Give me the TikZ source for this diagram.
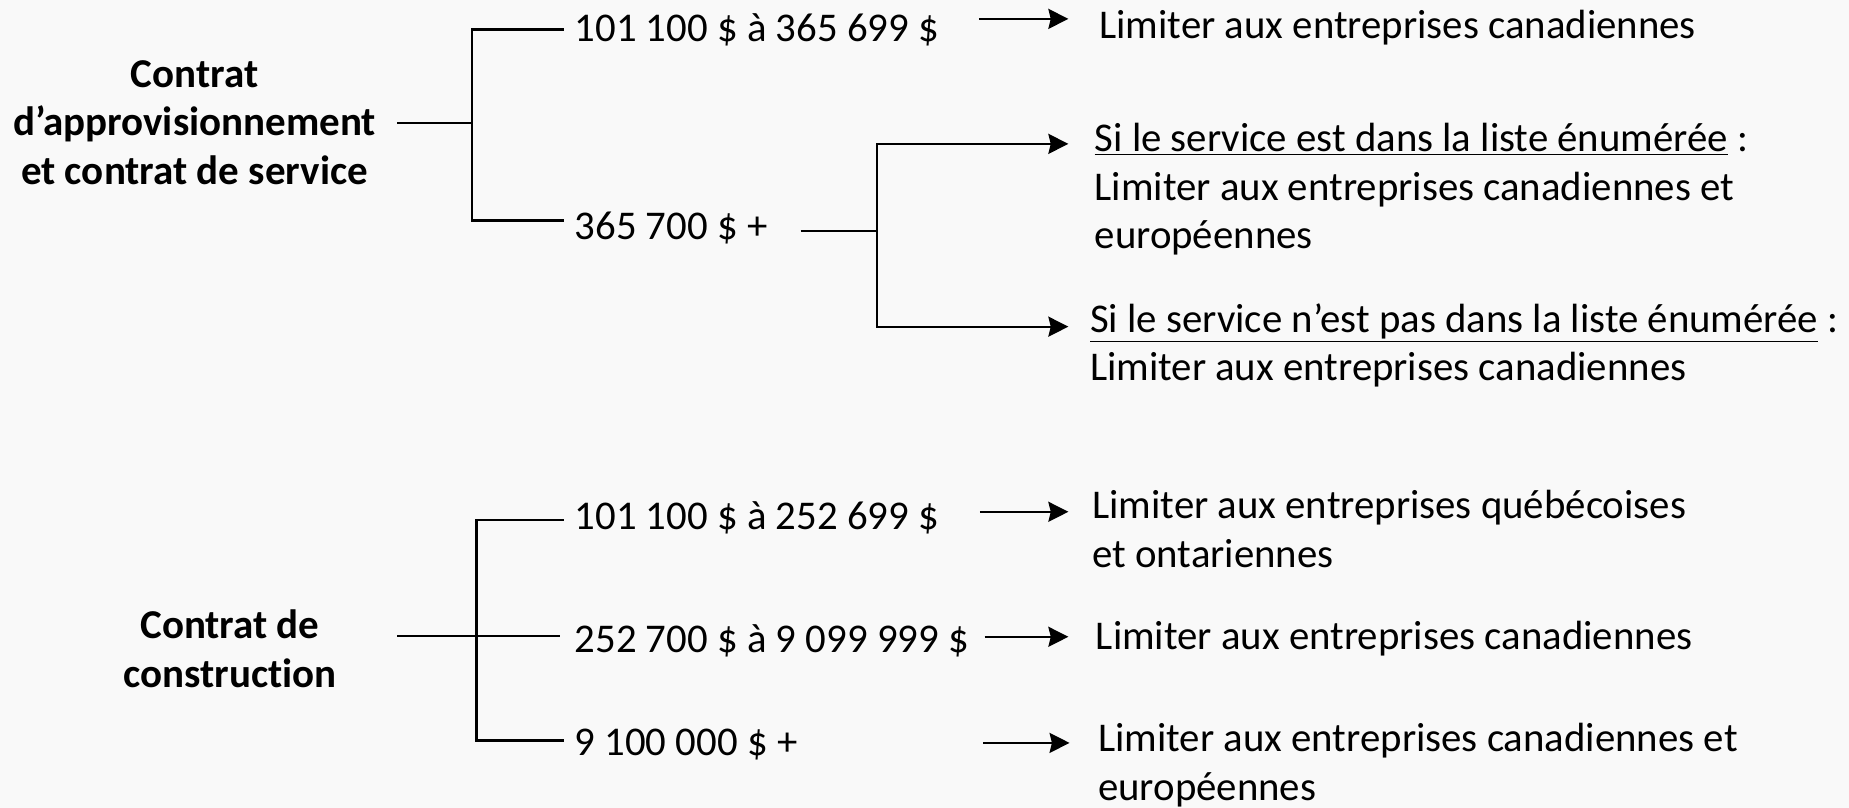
\documentclass[tikz,border=0pt]{standalone}
\usepackage{fontspec}
\setmainfont{Carlito}[Ligatures=NoCommon]
\usetikzlibrary{arrows.meta}
\definecolor{bgc}{RGB}{249,249,249}
\begin{document}
\begin{tikzpicture}[x=0.5896pt,y=-0.5896pt,
  txt/.style={anchor=base west,inner sep=0pt,align=left,font=\fontsize{20.4}{24.4}\selectfont},
  head/.style={align=center,inner sep=0pt,font=\fontsize{20.5}{24.4}\selectfont\bfseries},
  link/.style={line width=1.1pt},
  arr/.style={link,-{Stealth[length=10pt,width=10pt,inset=1.2pt]}}]
\fill[bgc] (0,0) rectangle (1568,685);
\useasboundingbox (0,0) rectangle (1568,685);

% contract types
\node[head] (supply) at (165,104) {Contrat\\d’approvisionnement\\et contrat de service};
\node[head] (build) at (195,550) {Contrat de\\construction};

% amount ranges (base anchor = baseline of the last line)
\node[txt] (a1) at (487,35) {101 100 \$ à 365 699 \$};
\node[txt] (a2) at (487,203) {365 700 \$ +};
\node[txt] (b1) at (487,449) {101 100 \$ à 252 699 \$};
\node[txt] (b2) at (487,553) {252 700 \$ à 9 099 999 \$};
\node[txt] (b3) at (487,641) {9 100 000 \$ +};

% outcomes
\node[txt] (o1) at (932,33) {Limiter aux entreprises canadiennes};
\node[txt] (o2) at (928,211) {\underline{Si le service est dans la liste énumérée} :\\Limiter aux entreprises canadiennes et\\européennes};
\node[txt] (o3) at (924,323) {\underline{Si le service n’est pas dans la liste énumérée} :\\Limiter aux entreprises canadiennes};
\node[txt] (p1) at (926,481) {Limiter aux entreprises québécoises\\et ontariennes};
\node[txt] (p2) at (929,551) {Limiter aux entreprises canadiennes};
\node[txt] (p3) at (931,679) {Limiter aux entreprises canadiennes et\\européennes};

% supply/service tree
\coordinate (s0) at (337,104);
\coordinate (s1) at (400,104);
\coordinate (s1t) at (400,25);
\coordinate (s1b) at (400,187);
\coordinate (a1w) at (478,25);
\coordinate (a2w) at (478,187);
\draw[link] (s0) -- (s1);
\draw[link] (a1w) -- (s1t) -- (s1b) -- (a2w);
\coordinate (a1e) at (830,16);
\coordinate (o1w) at (906,16);
\draw[arr] (a1e) -- (o1w);
\coordinate (a2e) at (679,196);
\coordinate (s2) at (744,196);
\coordinate (s2t) at (744,122);
\coordinate (s2b) at (744,277);
\coordinate (o2w) at (906,122);
\coordinate (o3w) at (906,277);
\draw[link] (a2e) -- (s2);
\draw[arr] (s2) -- (s2t) -- (o2w);
\draw[arr] (s2) -- (s2b) -- (o3w);

% construction tree
\coordinate (c0) at (337,539);
\coordinate (c1t) at (404,441);
\coordinate (c1b) at (404,628);
\coordinate (b1w) at (478,441);
\coordinate (b2w) at (475,539);
\coordinate (b3w) at (478,628);
\draw[link] (c0) -- (b2w);
\draw[link] (b1w) -- (c1t) -- (c1b) -- (b3w);
\coordinate (b1e) at (831,434);
\coordinate (p1w) at (906,434);
\coordinate (b2e) at (835,540);
\coordinate (p2w) at (906,540);
\coordinate (b3e) at (834,630);
\coordinate (p3w) at (907,630);
\draw[arr] (b1e) -- (p1w);
\draw[arr] (b2e) -- (p2w);
\draw[arr] (b3e) -- (p3w);
\end{tikzpicture}
\end{document}
